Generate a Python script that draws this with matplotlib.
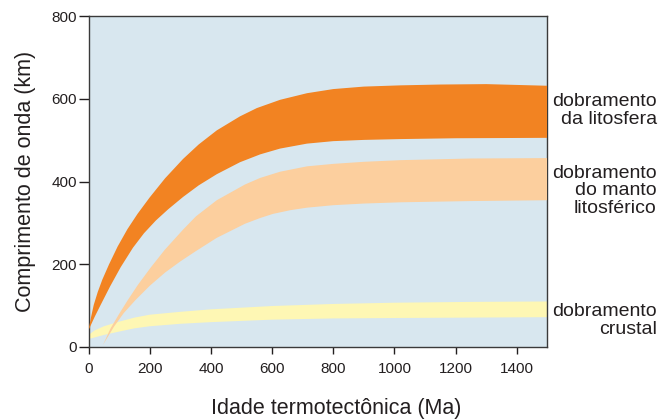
import matplotlib
matplotlib.use("Agg")
import matplotlib.pyplot as plt
import numpy as np

plt.rcParams['font.family'] = ['Liberation Sans', 'DejaVu Sans']

# Band: dobramento da litosfera (orange)
lito_up_x = [0, 8, 17, 30, 45, 67, 95, 127, 160, 200, 250, 309, 360, 419, 495, 550, 626, 714, 800, 900, 1020, 1150, 1300, 1400, 1500]
lito_up_y = [41, 72, 102, 133, 163, 200, 243, 285, 322, 362, 408, 455, 490, 524, 558, 578, 598, 614, 624, 630, 633, 635, 636, 634, 632]
lito_lo_x = [0, 20, 39, 70, 105, 145, 181, 220, 260, 309, 360, 419, 495, 561, 626, 714, 800, 900, 1020, 1200, 1500]
lito_lo_y = [41, 73, 101, 146, 193, 240, 275, 306, 333, 363, 391, 418, 447, 466, 480, 492, 498, 501, 503, 505, 506]

# Band: dobramento do manto litosferico (peach)
manto_up_x = [47, 72, 100, 127, 161, 203, 249, 309, 351, 419, 511, 561, 626, 714, 800, 900, 1020, 1250, 1500]
manto_up_y = [5, 45, 80, 112, 150, 192, 235, 284, 316, 355, 393, 409, 424, 437, 443, 448, 452, 456, 457]
manto_lo_x = [47, 65, 83, 115, 154, 200, 250, 300, 351, 419, 511, 561, 603, 660, 714, 800, 900, 1020, 1250, 1500]
manto_lo_y = [5, 27, 49, 82, 114, 148, 180, 207, 232, 264, 298, 312, 322, 331, 337, 343, 347, 350, 353, 355]

# Band: dobramento crustal (yellow)
crust_up_x = [0, 20, 50, 99, 150, 200, 300, 400, 500, 600, 800, 1000, 1250, 1500]
crust_up_y = [29, 40, 50, 61, 71, 78, 85, 91, 95, 99, 104, 107, 109, 110]
crust_lo_x = [0, 20, 50, 99, 150, 200, 300, 400, 500, 600, 800, 1000, 1250, 1500]
crust_lo_y = [19, 23, 29, 37, 45, 50, 56, 60, 63, 66, 69, 70, 71, 72]

labels = ["dobramento\nda litosfera", "dobramento\ndo manto\nlitosférico", "dobramento\ncrustal"]
label_y = [572, 378, 64]

xticks = [0, 200, 400, 600, 800, 1000, 1200, 1400]
yticks = [0, 200, 400, 600, 800]

TXT = '#231f20'
BG = '#d8e7ef'
C_LITO = '#f28322'
C_MANTO = '#fccf9e'
C_CRUST = '#fef7b4'

fig = plt.figure(figsize=(6.66, 4.19), dpi=100)
ax = fig.add_axes([0.133, 0.172, 0.689, 0.789])
ax.set_facecolor(BG)


def band(ux, uy, lx, ly, color, z):
    xs = np.array(list(ux) + list(lx)[::-1], dtype=float)
    ys = np.array(list(uy) + list(ly)[::-1], dtype=float)
    ax.fill(xs, ys, color=color, lw=0, zorder=z)


band(crust_up_x, crust_up_y, crust_lo_x, crust_lo_y, C_CRUST, 2)
band(manto_up_x, manto_up_y, manto_lo_x, manto_lo_y, C_MANTO, 3)
band(lito_up_x, lito_up_y, lito_lo_x, lito_lo_y, C_LITO, 4)

ax.set_xlim(0, 1500)
ax.set_ylim(0, 800)
ax.set_xticks(xticks)
ax.set_yticks(yticks)
ax.tick_params(axis='x', length=5, width=1, pad=6, labelsize=11, colors=TXT, direction='out')
ax.tick_params(axis='y', length=7, width=1, pad=1.5, labelsize=11, colors=TXT, direction='out')
for s in ax.spines.values():
    s.set_color('#3a3a3a')
    s.set_linewidth(1)

ax.set_ylabel("Comprimento de onda (km)", fontsize=15.5, color=TXT, labelpad=11)
ax.set_xlabel("Idade termotectônica (Ma)", fontsize=15.5, color=TXT)
ax.xaxis.set_label_coords(0.54, -0.155)

for lab, yv in zip(labels, label_y):
    ax.text(1.238, yv, lab, transform=ax.get_yaxis_transform(), ha='right', va='center',
            fontsize=14, color=TXT, linespacing=1.05)

fig.savefig("out.png", dpi=100, facecolor='white')
